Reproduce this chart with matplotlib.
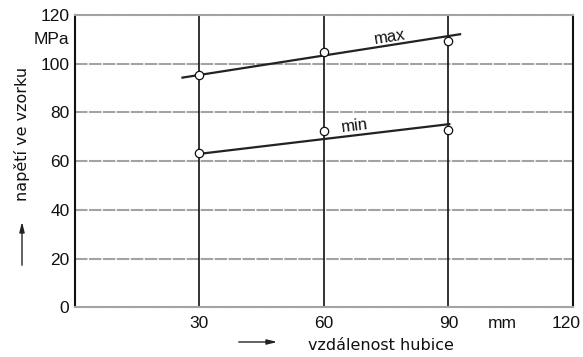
import numpy as np
import matplotlib
matplotlib.use("Agg")
import matplotlib.pyplot as plt
from matplotlib.transforms import ScaledTranslation

# measured points (distance mm, stress MPa)
dist = [30, 60, 90]
stress_max = [95.4, 104.7, 109.4]
stress_min = [63.2, 72.4, 72.8]

# hand-drawn trend lines (endpoints)
max_line_x = [25.9, 92.8]
max_line_y = [94.3, 112.1]
min_line_x = [30, 90.2]
min_line_y = [63.0, 75.2]

yticks = [0, 20, 40, 60, 80, 100, 120]
xticks = [30, 60, 90, 120]

plt.rcParams['font.family'] = ['Liberation Sans', 'DejaVu Sans']

fig = plt.figure(figsize=(5.83, 3.57), dpi=100)
ax = fig.add_axes([0.1286, 0.1392, 0.8542, 0.8188])

ax.set_xlim(0, 120)
ax.set_ylim(0, 120)

grid_col = '#a3a3a3'
for y in yticks[1:-1]:
    ax.axhline(y, color=grid_col, lw=1.5, ls=(0, (6, 0.7)), zorder=1)
for x in xticks[:-1]:
    ax.axvline(x, color='#111111', lw=1.2, zorder=2)

for s in ['top', 'bottom']:
    ax.spines[s].set_color(grid_col)
    ax.spines[s].set_linewidth(1.5)
    ax.spines[s].set_linestyle((0, (6, 0.7)))
for s in ['left', 'right']:
    ax.spines[s].set_color('#111111')
    ax.spines[s].set_linewidth(1.5)

ax.plot(max_line_x, max_line_y, color='#222222', lw=1.6, zorder=3)
ax.plot(min_line_x, min_line_y, color='#222222', lw=1.6, zorder=3)
ax.plot(dist, stress_max, 'o', ms=6, mfc='white', mec='#111111', mew=0.9, zorder=4)
ax.plot(dist, stress_min, 'o', ms=6, mfc='white', mec='#111111', mew=0.9, zorder=4)

ax.text(75.9, 111.0, 'max', fontsize=12, rotation=8.9, ha='center', va='center',
        rotation_mode='anchor', color='#111111')
ax.text(67.5, 74.4, 'min', fontsize=12, rotation=6.7, ha='center', va='center',
        rotation_mode='anchor', color='#111111')

ax.set_yticks(yticks)
ax.set_xticks(xticks)
ax.tick_params(length=0, labelsize=12.5, colors='#111111')
ax.tick_params(axis='y', pad=4)
ax.tick_params(axis='x', pad=6)

# keep the last x label inside the picture
last = ax.get_xticklabels()[-1]
last.set_transform(last.get_transform() + ScaledTranslation(-5 / 72, 0, fig.dpi_scale_trans))

ax.annotate('MPa', xy=(0, 110), xycoords=('axes fraction', 'data'),
            xytext=(-4, 0), textcoords='offset points', ha='right', va='center',
            fontsize=12.5, color='#111111')
ax.annotate('mm', xy=(103, 0), xycoords='data', xytext=(0, -6),
            textcoords='offset points', ha='center', va='top',
            fontsize=12.5, color='#111111')

fig.text(381 / 583, 1 - 345 / 357, 'vzdálenost hubice', ha='center', va='center',
         fontsize=11.5, family=['DejaVu Sans'], color='#111111')
fig.text(22 / 583, 1 - 134 / 357, 'napětí ve vzorku', ha='center', va='center',
         rotation=90, fontsize=11.5, family=['DejaVu Sans'], color='#111111')

# direction arrows
fig.add_artist(matplotlib.patches.FancyArrowPatch(
    (236 / 583, 1 - 342 / 357), (280 / 583, 1 - 342 / 357),
    transform=fig.transFigure, arrowstyle='-|>,head_length=6,head_width=1.5',
    color='#222222', lw=1.0))
fig.add_artist(matplotlib.patches.FancyArrowPatch(
    (22 / 583, 1 - 268 / 357), (22 / 583, 1 - 219 / 357),
    transform=fig.transFigure, arrowstyle='-|>,head_length=6,head_width=1.5',
    color='#222222', lw=1.0))

fig.savefig('out.png', dpi=100)
